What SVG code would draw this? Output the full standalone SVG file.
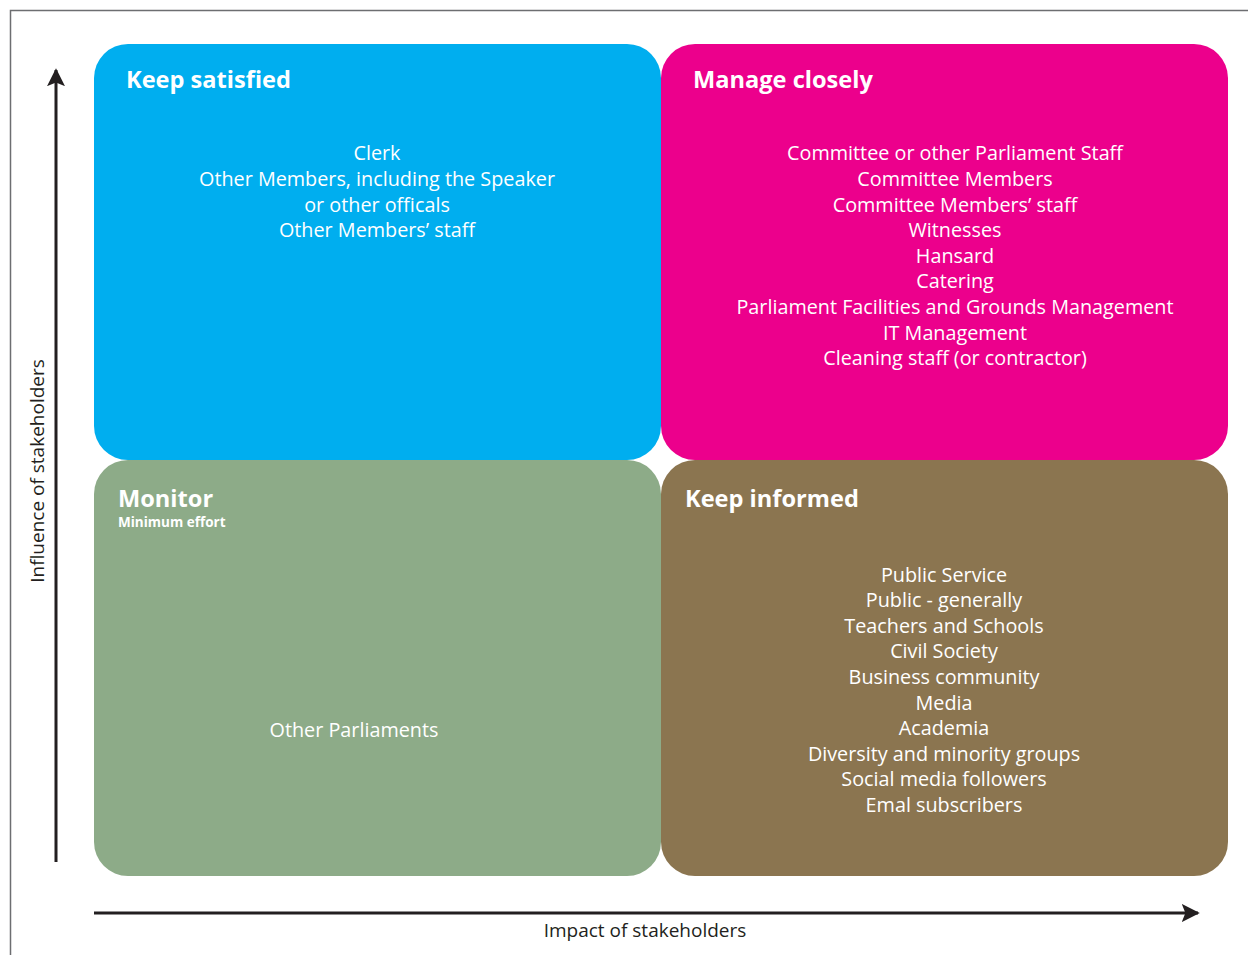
<svg xmlns="http://www.w3.org/2000/svg" width="1248" height="955" viewBox="0 0 1248 955">
<defs>
<style>
.t{font-family:"Open Sans","Liberation Sans",sans-serif;font-weight:700;font-size:23.6px;fill:#fff}
.s{font-family:"Open Sans","Liberation Sans",sans-serif;font-weight:700;font-size:13.5px;fill:#fff}
.b{font-family:"Open Sans","Liberation Sans",sans-serif;font-size:19.8px;fill:#fff;text-anchor:middle}
.ax{font-family:"Open Sans","Liberation Sans",sans-serif;font-size:19px;fill:#231f20;text-anchor:middle}
.ln{stroke:#231f20;stroke-width:3;fill:none}
</style>
<marker id="ah" viewBox="0 0 10 10" refX="9" refY="5" markerWidth="6" markerHeight="6" markerUnits="strokeWidth" orient="auto">
<path d="M0,0 L10,5 L0,10 L2,5 Z" fill="#231f20"/>
</marker>
</defs>
<rect width="1248" height="955" fill="#fff"/>
<path d="M10.5,955 V10.5 H1248" stroke="#6d6e71" stroke-width="1.5" fill="none"/>
<g id="connectors">
<line class="ln" x1="56" y1="862" x2="56" y2="70" marker-end="url(#ah)"/>
<line class="ln" x1="94" y1="913" x2="1198" y2="913" marker-end="url(#ah)"/>
</g>
<g id="keep-satisfied">
<rect x="94" y="44" width="567" height="416" rx="34" fill="#00aeef"/>
<text class="t" x="126" y="88">Keep satisfied</text>
<text class="b" x="377" y="160">Clerk</text>
<text class="b" x="377" y="186">Other Members, including the Speaker</text>
<text class="b" x="377" y="212">or other officals</text>
<text class="b" x="377" y="237">Other Members’ staff</text>
</g>
<g id="manage-closely">
<rect x="661" y="44" width="567" height="416" rx="34" fill="#ec008c"/>
<text class="t" x="693" y="88">Manage closely</text>
<text class="b" x="955" y="160">Committee or other Parliament Staff</text>
<text class="b" x="955" y="186">Committee Members</text>
<text class="b" x="955" y="212">Committee Members’ staff</text>
<text class="b" x="955" y="237">Witnesses</text>
<text class="b" x="955" y="263">Hansard</text>
<text class="b" x="955" y="288">Catering</text>
<text class="b" x="955" y="314">Parliament Facilities and Grounds Management</text>
<text class="b" x="955" y="340">IT Management</text>
<text class="b" x="955" y="365">Cleaning staff (or contractor)</text>
</g>
<g id="monitor">
<rect x="94" y="460" width="567" height="416" rx="34" fill="#8dab88"/>
<text class="t" x="118" y="507">Monitor</text>
<text class="s" x="118" y="527">Minimum effort</text>
<text class="b" x="354" y="737">Other Parliaments</text>
</g>
<g id="keep-informed">
<rect x="661" y="460" width="567" height="416" rx="34" fill="#8b7550"/>
<text class="t" x="685" y="507">Keep informed</text>
<text class="b" x="944" y="582">Public Service</text>
<text class="b" x="944" y="607">Public - generally</text>
<text class="b" x="944" y="633">Teachers and Schools</text>
<text class="b" x="944" y="658">Civil Society</text>
<text class="b" x="944" y="684">Business community</text>
<text class="b" x="944" y="710">Media</text>
<text class="b" x="944" y="735">Academia</text>
<text class="b" x="944" y="761">Diversity and minority groups</text>
<text class="b" x="944" y="786">Social media followers</text>
<text class="b" x="944" y="812">Emal subscribers</text>
</g>
<text class="ax" x="645" y="937">Impact of stakeholders</text>
<text class="ax" transform="translate(44,471) rotate(-90)">Influence of stakeholders</text>
</svg>
